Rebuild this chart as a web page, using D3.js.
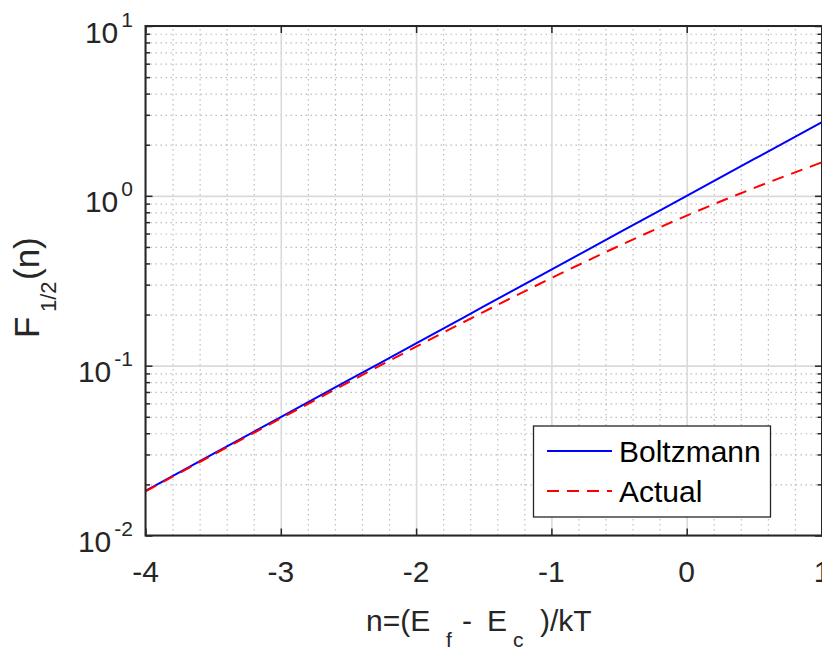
<!DOCTYPE html>
<html>
<head>
<meta charset="utf-8">
<script src="https://cdn.jsdelivr.net/npm/d3@7"></script>
<style>
  body { margin: 0; background: #fff; }
  svg { display: block; font-family: Arial, "Liberation Sans", sans-serif; }
</style>
</head>
<body>
<script>
// values
var nValues   = [-4, -3.5, -3, -2.5, -2, -1.5, -1, -0.5, 0, 0.5, 1];
var boltzmann = [0.0183, 0.0302, 0.0498, 0.0821, 0.1353, 0.2231, 0.3679, 0.6065, 1.0, 1.6487, 2.7183];
var actual    = [0.0182, 0.0299, 0.0489, 0.0798, 0.1293, 0.2074, 0.3278, 0.5075, 0.7651, 1.113, 1.5756];
var xTicks = [-4, -3, -2, -1, 0, 1];
var yMajor = [0.01, 0.1, 1, 10];
var yExp   = ["-2", "-1", "0", "1"];
var seriesNames = ["Boltzmann", "Actual"];

var WIDTH = 822, HEIGHT = 650;
var L = 145.5, R = 822, T = 26, B = 535.5;
var INK = "#262626";

var _svg = d3.select("body").append("svg")
  .attr("width", WIDTH).attr("height", HEIGHT);

var _xScale = d3.scaleLinear().domain([-4, 1]).range([L, R]);
var _yScale = d3.scaleLog().domain([0.01, 10]).range([B, T]);

var xMinor = d3.range(-4, 1.0001, 0.2).map(function(d){ return Math.round(d*10)/10; })
  .filter(function(d){ return xTicks.indexOf(d) < 0; });
var yMinor = [];
yMajor.slice(0, 3).forEach(function(m){
  for (var k = 2; k <= 9; k++) yMinor.push(m * k);
});

// grid
function minorGrid(g){
  g.select(".domain").remove();
  g.selectAll("line").attr("stroke", "#bdbdbd").attr("stroke-width", 1.2).attr("stroke-dasharray", "1.5,3.5");
}
function majorGrid(g){
  g.select(".domain").remove();
  g.selectAll("line").attr("stroke", "#dadada").attr("stroke-width", 1.6);
}
var grid = _svg.append("g");
grid.append("g").attr("transform", "translate(0," + B + ")")
  .call(d3.axisBottom(_xScale).tickValues(xMinor).tickSize(-(B - T)).tickFormat("")).call(minorGrid);
grid.append("g").attr("transform", "translate(" + L + ",0)")
  .call(d3.axisLeft(_yScale).tickValues(yMinor).tickSize(-(R - L)).tickFormat("")).call(minorGrid);
grid.append("g").attr("transform", "translate(0," + B + ")")
  .call(d3.axisBottom(_xScale).tickValues(xTicks).tickSize(-(B - T)).tickFormat("")).call(majorGrid);
grid.append("g").attr("transform", "translate(" + L + ",0)")
  .call(d3.axisLeft(_yScale).tickValues(yMajor).tickSize(-(R - L)).tickFormat("")).call(majorGrid);

// curves
var plot = _svg.append("g");
plot.append("clipPath").attr("id", "clip").append("rect")
  .attr("x", L).attr("y", T).attr("width", R - L).attr("height", B - T);

var line = d3.line()
  .x(function(d){ return _xScale(d[0]); })
  .y(function(d){ return _yScale(d[1]); })
  .curve(d3.curveMonotoneX);

plot.append("path").datum(d3.zip(nValues, boltzmann))
  .attr("clip-path", "url(#clip)")
  .attr("d", line).attr("fill", "none")
  .attr("stroke", "#0000ff").attr("stroke-width", 2);
plot.append("path").datum(d3.zip(nValues, actual))
  .attr("clip-path", "url(#clip)")
  .attr("d", line).attr("fill", "none")
  .attr("stroke", "#ff0000").attr("stroke-width", 2)
  .attr("stroke-dasharray", "12,8");

// axes ticks (inward, all four sides)
function styleTicks(g){
  g.select(".domain").remove();
  g.selectAll("line").attr("stroke", INK).attr("stroke-width", 1.5);
}
_svg.append("g").attr("transform", "translate(0," + B + ")")
  .call(d3.axisBottom(_xScale).tickValues(xTicks).tickSize(-7).tickFormat("")).call(styleTicks);
_svg.append("g").attr("transform", "translate(0," + T + ")")
  .call(d3.axisTop(_xScale).tickValues(xTicks).tickSize(-7).tickFormat("")).call(styleTicks);
_svg.append("g").attr("transform", "translate(" + L + ",0)")
  .call(d3.axisLeft(_yScale).tickValues(yMajor).tickSize(-7).tickFormat("")).call(styleTicks);
_svg.append("g").attr("transform", "translate(" + L + ",0)")
  .call(d3.axisLeft(_yScale).tickValues(yMinor).tickSize(-4.5).tickFormat("")).call(styleTicks);
_svg.append("g").attr("transform", "translate(" + R + ",0)")
  .call(d3.axisRight(_yScale).tickValues(yMajor).tickSize(-7).tickFormat("")).call(styleTicks);
_svg.append("g").attr("transform", "translate(" + R + ",0)")
  .call(d3.axisRight(_yScale).tickValues(yMinor).tickSize(-4.5).tickFormat("")).call(styleTicks);

// box
_svg.append("rect").attr("x", L).attr("y", T).attr("width", R - L).attr("height", B - T)
  .attr("fill", "none").attr("stroke", INK).attr("stroke-width", 2);

// x tick labels
_svg.append("g").selectAll("text").data(xTicks).enter().append("text")
  .attr("x", function(d){ return _xScale(d); })
  .attr("y", 582)
  .attr("text-anchor", "middle")
  .attr("font-size", 30).attr("fill", INK)
  .text(function(d){ return d < 0 ? "-" + Math.abs(d) : d; });

// y tick labels 10^k
var yl = _svg.append("g").selectAll("text").data(yMajor).enter().append("text")
  .attr("x", 133)
  .attr("y", function(d){ return _yScale(d) + 16.5; })
  .attr("text-anchor", "end")
  .attr("font-size", 30).attr("fill", INK);
yl.append("tspan").text("10");
yl.append("tspan").attr("dx", 3).attr("dy", -16).attr("font-size", 21)
  .text(function(d, i){ return yExp[i]; });

// x axis label
var xl = _svg.append("text")
  .attr("y", 631)
  .attr("font-size", 30).attr("fill", INK);
xl.append("tspan").attr("x", 366).text("n=(E");
xl.append("tspan").attr("x", 446).attr("dy", 16).attr("font-size", 21).text("f");
xl.append("tspan").attr("x", 462).attr("dy", -16).text("-");
xl.append("tspan").attr("x", 487).text("E");
xl.append("tspan").attr("x", 513).attr("dy", 16).attr("font-size", 21).text("c");
xl.append("tspan").attr("x", 540).attr("dy", -16).text(")/kT");

// y axis label
var ylab = _svg.append("text")
  .attr("transform", "translate(39,0) rotate(-90)")
  .attr("font-size", 35).attr("fill", INK);
ylab.append("tspan").attr("x", -338).text("F");
ylab.append("tspan").attr("x", -312).attr("dy", 17).attr("font-size", 22).text("1/2");
ylab.append("tspan").attr("x", -280).attr("dy", -17).text("(n)");

// legend
var lg = _svg.append("g");
lg.append("rect").attr("x", 533.5).attr("y", 426).attr("width", 237).attr("height", 91)
  .attr("fill", "#fff").attr("stroke", INK).attr("stroke-width", 1.3);
var legendRows = [
  { name: seriesNames[0], color: "#0000ff", dash: null, y: 451 },
  { name: seriesNames[1], color: "#ff0000", dash: "12,8", y: 491 }
];
legendRows.forEach(function(r){
  lg.append("line").attr("x1", 547).attr("x2", 612).attr("y1", r.y).attr("y2", r.y)
    .attr("stroke", r.color).attr("stroke-width", 2)
    .attr("stroke-dasharray", r.dash);
  lg.append("text").attr("x", 619).attr("y", r.y + 10.5)
    .attr("font-size", 30).attr("fill", "#000").text(r.name);
});
</script>
</body>
</html>
